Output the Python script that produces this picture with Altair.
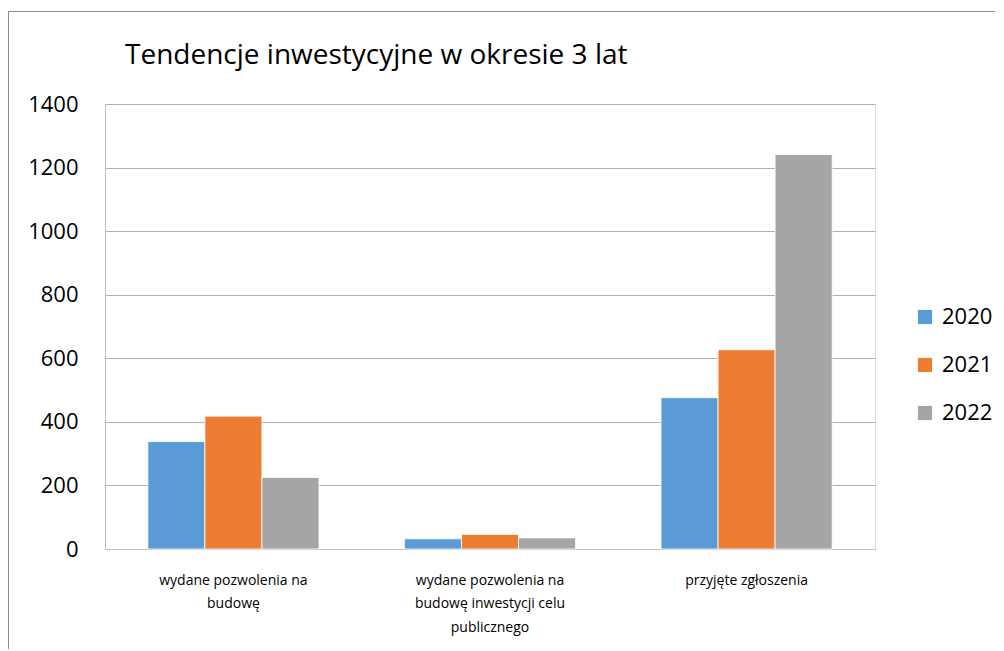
import altair as alt
import pandas as pd

categories = [
    "wydane pozwolenia na budowę",
    "wydane pozwolenia na budowę inwestycji celu publicznego",
    "przyjęte zgłoszenia",
]
category_lines = [
    ["wydane pozwolenia na", "budowę"],
    ["wydane pozwolenia na", "budowę inwestycji celu", "publicznego"],
    ["przyjęte zgłoszenia"],
]
years = ["2020", "2021", "2022"]
values_2020 = [338, 32, 476]
values_2021 = [418, 46, 627]
values_2022 = [225, 35, 1241]
colors = ["#5B9BD5", "#ED7D31", "#A5A5A5"]
y_ticks = [0, 200, 400, 600, 800, 1000, 1200, 1400]

rows = []
for yr, vals in zip(years, [values_2020, values_2021, values_2022]):
    for c, v in zip(categories, vals):
        rows.append({"kategoria": c, "rok": yr, "wartosc": v})
df = pd.DataFrame(rows)

label_map = "{" + ", ".join(
    "'" + c + "': [" + ", ".join("'" + l + "'" for l in ls) + "]"
    for c, ls in zip(categories, category_lines)
) + "}"

FONT = "Open Sans"

bars = alt.Chart(df).mark_bar(stroke="white", strokeWidth=0.8).encode(
    x=alt.X(
        "kategoria:N",
        sort=categories,
        title=None,
        scale=alt.Scale(paddingInner=0.333, paddingOuter=0.167),
        axis=alt.Axis(
            labelAngle=0,
            labelExpr=label_map + "[datum.value]",
            labelFontSize=14,
            labelFont=FONT,
            labelColor="#000000",
            labelLineHeight=23.5,
            labelPadding=24,
            labelLimit=400,
            ticks=False,
            domainColor="#bfbfbf",
            grid=False,
        ),
    ),
    xOffset=alt.XOffset("rok:N", sort=years),
    y=alt.Y(
        "wartosc:Q",
        title=None,
        scale=alt.Scale(domain=[0, 1400], nice=False),
        axis=alt.Axis(
            values=y_ticks,
            format="d",
            labelFontSize=22,
            labelFont=FONT,
            labelColor="#000000",
            labelPadding=27,
            ticks=False,
            domain=True,
            domainColor="#bfbfbf",
            gridColor="#b0b0b0",
            gridWidth=1,
        ),
    ),
    color=alt.Color(
        "rok:N",
        sort=years,
        scale=alt.Scale(domain=years, range=colors),
        legend=alt.Legend(
            title=None,
            orient="none",
            legendX=809,
            legendY=202,
            symbolType="square",
            symbolSize=200,
            symbolStrokeWidth=0,
            labelFontSize=22,
            labelFont=FONT,
            labelColor="#000000",
            rowPadding=26,
            labelOffset=6,
        ),
    ),
)

frame = alt.Chart(pd.DataFrame({"a": [0]})).mark_rect(
    fill=None, stroke="#8c8c8c", strokeWidth=1
).encode(
    x=alt.value(-96.5),
    x2=alt.value(950),
    y=alt.value(-92.5),
    y2=alt.value(600),
)

chart = alt.layer(frame, bars).properties(
    width=770,
    height=445,
    padding={"left": 97, "top": 96, "right": 120, "bottom": 100},
    autosize=alt.AutoSizeParams(type="none"),
    title=alt.TitleParams(
        "Tendencje inwestycyjne w okresie 3 lat",
        anchor="start",
        frame="group",
        dx=20,
        offset=-81,
        baseline="alphabetic",
        fontSize=28,
        font=FONT,
        fontWeight="normal",
        color="#000000",
    ),
).configure_view(stroke=None).configure(background="white")

chart.save("out.html", embed_options={"renderer": "svg", "actions": False})
